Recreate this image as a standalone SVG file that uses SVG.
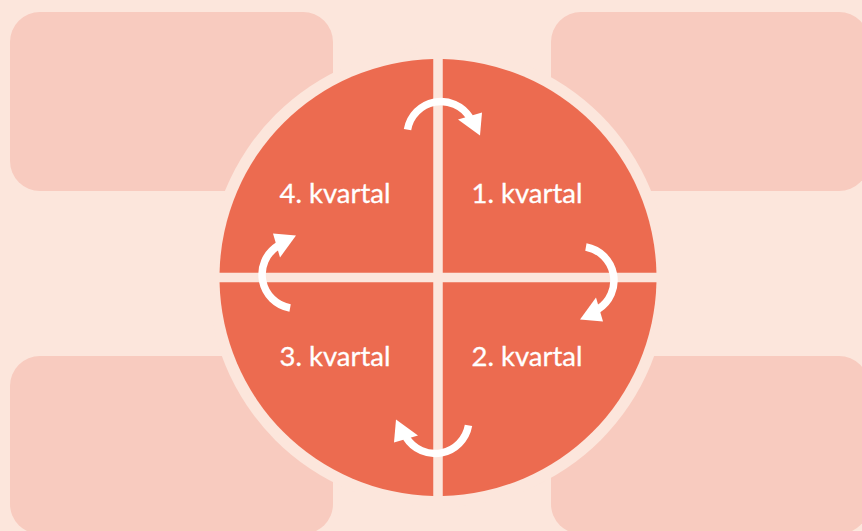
<svg xmlns="http://www.w3.org/2000/svg" width="862" height="531" viewBox="0 0 862 531">
<defs>
<style>
.box{fill:#f8cbbf}
.q{fill:#ec6b50}
.lbl{font-family:Lato,"Open Sans","Liberation Sans",sans-serif;font-size:27.5px;fill:#ffffff;text-anchor:middle;stroke:#ffffff;stroke-width:0.3}
.arc{fill:none;stroke:#ffffff;stroke-width:7.5}
.head{fill:#ffffff}
</style>
<g id="arrowShape">
<path class="arc" d="M407.5,129.6 A34,34 0 0 1 469.8,117.5"/>
<polygon class="head" points="458,119.5 482,112.5 480,135.5"/>
</g>
</defs>
<rect width="862" height="531" fill="#fce6dc"/>
<g id="box-top-left"><rect class="box" x="10" y="12" width="323" height="179" rx="30"/></g>
<g id="box-top-right"><rect class="box" x="551" y="12" width="318" height="179" rx="30"/></g>
<g id="box-bottom-left"><rect class="box" x="10" y="356" width="323" height="178" rx="30"/></g>
<g id="box-bottom-right"><rect class="box" x="551" y="356" width="318" height="178" rx="30"/></g>
<circle cx="438" cy="277.5" r="230" fill="#fce6dc"/>
<g id="q1">
<path class="q" d="M442.75,272.75 V59.05 A218.5,218.5 0 0 1 656.45,272.75 Z"/>
<text class="lbl" x="527" y="203">1. kvartal</text>
</g>
<g id="q2">
<path class="q" d="M442.75,282.25 H656.45 A218.5,218.5 0 0 1 442.75,495.95 Z"/>
<text class="lbl" x="527" y="366">2. kvartal</text>
</g>
<g id="q3">
<path class="q" d="M433.25,282.25 V495.95 A218.5,218.5 0 0 1 219.55,282.25 Z"/>
<text class="lbl" x="335" y="366">3. kvartal</text>
</g>
<g id="q4">
<path class="q" d="M433.25,272.75 H219.55 A218.5,218.5 0 0 1 433.25,59.05 Z"/>
<text class="lbl" x="335" y="203">4. kvartal</text>
</g>
<g id="connectors">
<use href="#arrowShape"/>
<use href="#arrowShape" transform="rotate(90 438 277.5)"/>
<use href="#arrowShape" transform="rotate(180 438 277.5)"/>
<use href="#arrowShape" transform="rotate(270 438 277.5)"/>
</g>
</svg>
